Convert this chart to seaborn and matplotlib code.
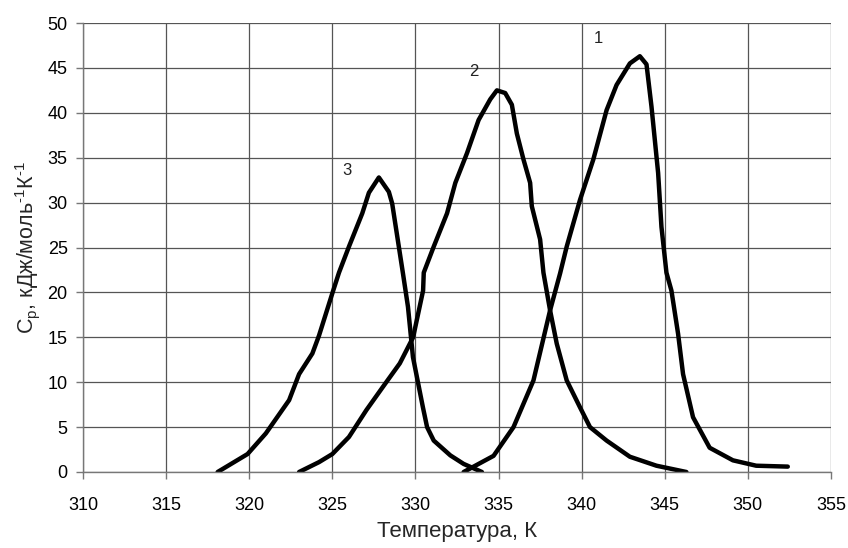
import matplotlib
matplotlib.use("Agg")
import matplotlib.pyplot as plt
import seaborn as sns
import pandas as pd

# Curve 1
t1 = [332.9, 334.7, 335.9, 337.1, 338.1, 338.7, 339.1, 339.9, 340.7, 341.5, 342.1, 342.9,
      343.5, 343.9, 344.2, 344.6, 344.8, 345.1, 345.4, 345.8, 346.1, 346.7, 347.7, 349.1,
      350.5, 352.4]
c1 = [0.0, 1.8, 5.0, 10.2, 18.0, 22.1, 25.1, 30.3, 34.8, 40.3, 43.1, 45.5,
      46.3, 45.4, 40.7, 33.3, 27.3, 22.2, 20.2, 15.4, 10.9, 6.1, 2.7, 1.3,
      0.7, 0.6]
# Curve 2
t2 = [323.0, 324.2, 325.0, 326.0, 327.05, 328.05, 329.06, 329.86, 330.46, 330.5, 331.1,
      331.9, 332.4, 333.1, 333.8, 334.5, 334.9, 335.4, 335.8, 336.1, 336.5, 336.9, 337.0,
      337.5, 337.7, 338.1, 338.5, 339.1, 339.9, 340.5, 341.5, 342.9, 344.5, 346.3]
c2 = [0.0, 1.1, 2.0, 3.9, 6.9, 9.5, 12.1, 15.0, 20.2, 22.2, 25.1,
      28.8, 32.2, 35.5, 39.2, 41.5, 42.5, 42.2, 40.9, 37.7, 34.8, 32.2, 29.6,
      25.9, 22.2, 18.0, 14.3, 10.2, 7.2, 5.0, 3.5, 1.7, 0.7, 0.0]
# Curve 3
t3 = [318.1, 319.9, 321.0, 322.4, 323.0, 323.8, 324.2, 325.0, 325.4, 326.0, 326.8,
      327.2, 327.8, 328.4, 328.6, 329.0, 329.25, 329.55, 329.85, 330.45, 330.7, 331.1,
      332.1, 332.9, 334.0]
c3 = [0.0, 2.0, 4.3, 8.0, 10.9, 13.2, 15.2, 19.9, 22.2, 25.1, 28.8,
      31.1, 32.8, 31.2, 29.9, 25.1, 22.1, 18.4, 12.8, 7.2, 5.0, 3.5,
      1.85, 0.9, 0.0]

curve_labels = ["1", "2", "3"]
label_x = [341.0, 333.5, 325.85]
label_y = [48.25, 44.6, 33.6]

x_ticks = [310, 315, 320, 325, 330, 335, 340, 345, 350, 355]
y_ticks = [0, 5, 10, 15, 20, 25, 30, 35, 40, 45, 50]

frames = []
for name, t, c in zip(curve_labels, [t1, t2, t3], [c1, c2, c3]):
    frames.append(pd.DataFrame({"T": t, "Cp": c, "curve": name}))
df = pd.concat(frames, ignore_index=True)

sns.set_theme(style="white")
plt.rcParams["font.family"] = ["Liberation Sans", "DejaVu Sans"]
plt.rcParams["mathtext.fontset"] = "custom"
plt.rcParams["mathtext.rm"] = "Liberation Sans"
plt.rcParams["axes.unicode_minus"] = False

fig = plt.figure(figsize=(8.48, 5.48), dpi=100)
ax = fig.add_axes([83 / 848, 1 - 472 / 548, (831 - 83) / 848, (472 - 23) / 548])

sns.lineplot(data=df, x="T", y="Cp", units="curve", estimator=None, sort=False,
             color="black", linewidth=3.2, ax=ax)

for lab, lx, ly in zip(curve_labels, label_x, label_y):
    ax.text(lx, ly, lab, fontsize=12, ha="center", va="center", color="#222222")

ax.set_xlim(310, 355)
ax.set_ylim(0, 50)
ax.set_xticks(x_ticks)
ax.set_yticks(y_ticks)
ax.grid(True, color="#555555", linewidth=0.9)
for s in ["top", "right"]:
    ax.spines[s].set_visible(False)
for s in ["left", "bottom"]:
    ax.spines[s].set_color("#777777")
    ax.spines[s].set_linewidth(1.0)
ax.tick_params(axis="both", which="both", direction="out", length=5, width=1,
               color="#777777", labelsize=13, labelcolor="black", pad=6, left=True, bottom=True)
ax.tick_params(axis="x", pad=13)

ax.set_xlabel("Температура, К", fontsize=16, labelpad=5)
ax.set_ylabel("C$_\\mathregular{p}$, кДж/моль$^\\mathregular{\u2010 1}$К$^\\mathregular{\u2010 1}$",
              fontsize=15.5, labelpad=4)

fig.savefig("out.png", dpi=100)
